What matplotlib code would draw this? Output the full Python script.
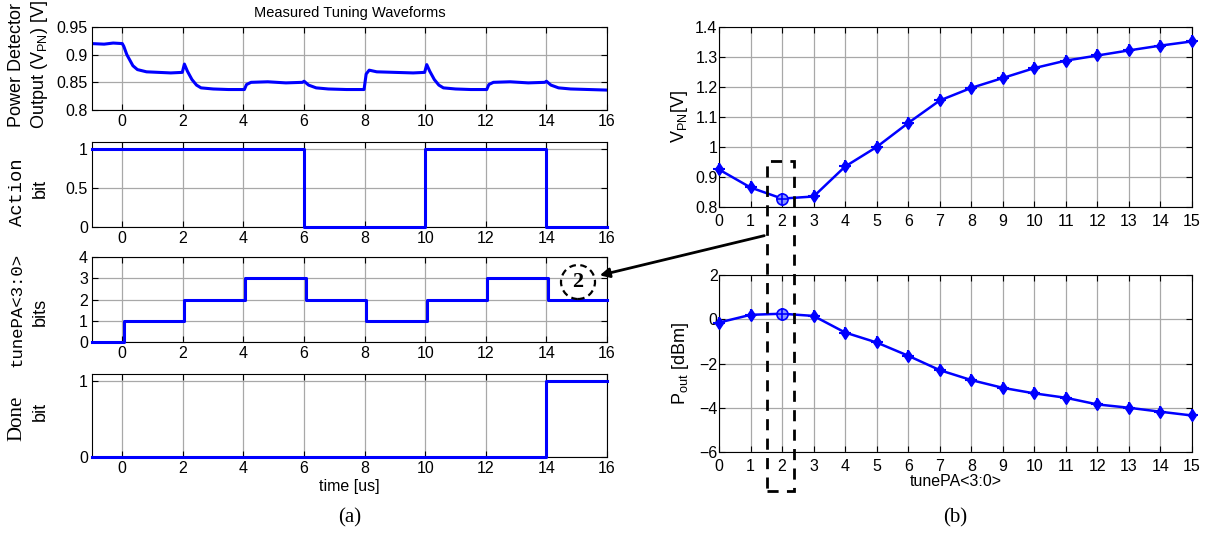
import matplotlib
matplotlib.use("Agg")
import matplotlib.pyplot as plt
from matplotlib.patches import Rectangle, Ellipse, FancyArrowPatch

plt.rcParams['font.family'] = ['Liberation Sans', 'DejaVu Sans']
plt.rcParams['mathtext.fontset'] = 'custom'
plt.rcParams['mathtext.rm'] = 'Liberation Sans'
plt.rcParams['mathtext.it'] = 'Liberation Sans'

# power detector trace, breakpoints in us / V
pd_t = [-1.0, -0.6, -0.3, 0.0, 0.05, 0.15, 0.35, 0.5, 0.8, 1.2, 1.6, 1.98,
        2.05, 2.15, 2.3, 2.45, 2.6, 3.0, 3.5, 4.03, 4.1, 4.25, 4.8, 5.4, 5.95,
        6.0, 6.15, 6.4, 6.8, 7.4, 7.98, 8.05, 8.15, 8.4, 9.0, 9.6, 9.98,
        10.05, 10.15, 10.3, 10.45, 10.6, 11.0, 11.5, 12.03, 12.1, 12.25, 12.8,
        13.4, 13.95, 14.0, 14.15, 14.4, 14.8, 15.4, 16.0]
pd_v = [0.920, 0.919, 0.921, 0.920, 0.915, 0.900, 0.880, 0.873, 0.869, 0.868,
        0.867, 0.868,
        0.883, 0.870, 0.855, 0.845, 0.840, 0.838, 0.837, 0.837, 0.846, 0.850,
        0.851, 0.849, 0.850,
        0.852, 0.845, 0.840, 0.838, 0.837, 0.837, 0.865, 0.872, 0.869, 0.868,
        0.867, 0.868,
        0.882, 0.870, 0.855, 0.845, 0.840, 0.838, 0.837, 0.837, 0.846, 0.850,
        0.851, 0.849, 0.850,
        0.852, 0.845, 0.840, 0.838, 0.837, 0.836]

# digital control signals (value holds from each edge to the next)
action_t = [-1, 6, 10, 14, 16]
action_v = [1, 0, 1, 0, 0]
tune_t = [-1, 0.05, 2.05, 4.05, 6.05, 8.05, 10.05, 12.05, 14.05, 16]
tune_v = [0, 1, 2, 3, 2, 1, 2, 3, 2, 2]
done_t = [-1, 14, 16]
done_v = [0, 1, 1]

# static sweep of tunePA code
code = list(range(16))
vpn = [0.925, 0.865, 0.828, 0.835, 0.935, 1.0, 1.08, 1.155, 1.197, 1.23,
       1.263, 1.288, 1.305, 1.322, 1.338, 1.352]
pout = [-0.15, 0.2, 0.25, 0.15, -0.6, -1.05, -1.65, -2.3, -2.75, -3.1,
        -3.35, -3.55, -3.85, -4.0, -4.18, -4.35]
chosen = 2

W, H = 1219, 539
BLUE = (0, 0, 1)
GRID = '#a8a8a8'


def box(l, t, r, b):
    return [l / W, 1 - b / H, (r - l) / W, (b - t) / H]


def style(ax):
    ax.grid(True, color=GRID, lw=0.9)
    ax.set_axisbelow(True)
    ax.tick_params(direction='in', length=4, labelsize=11.5, pad=3,
                   top=True, right=True)
    for s in ax.spines.values():
        s.set_linewidth(0.8)


fig = plt.figure(figsize=(W / 100, H / 100), dpi=100)
fig.patch.set_facecolor('white')

ax1 = fig.add_axes(box(92, 27, 607, 110))
ax2 = fig.add_axes(box(92, 142, 607, 227))
ax3 = fig.add_axes(box(92, 257, 607, 342))
ax4 = fig.add_axes(box(92, 374, 607, 457))

ax1.plot(pd_t, pd_v, color=BLUE, lw=2.2)
ax1.set_ylim(0.8, 0.95)
ax1.set_yticks([0.8, 0.85, 0.9, 0.95])
ax1.set_yticklabels(['0.8', '0.85', '0.9', '0.95'])
ax1.set_title('Measured Tuning Waveforms', fontsize=10.5, pad=7)

ax2.step(action_t, action_v, where='post', color=BLUE, lw=2.2, clip_on=False, zorder=5)
ax2.set_ylim(0, 1.09)
ax2.set_yticks([0, 0.5, 1])
ax2.set_yticklabels(['0', '0.5', '1'])

ax3.step(tune_t, tune_v, where='post', color=BLUE, lw=2.2, clip_on=False, zorder=5)
ax3.set_ylim(0, 4)
ax3.set_yticks([0, 1, 2, 3, 4])

ax4.step(done_t, done_v, where='post', color=BLUE, lw=2.2, clip_on=False, zorder=5)
ax4.set_ylim(0, 1.09)
ax4.set_yticks([0, 1])
ax4.set_xlabel('time [us]', fontsize=11.5, labelpad=2)

for ax in (ax1, ax2, ax3, ax4):
    ax.set_xlim(-1, 16)
    ax.set_xticks(range(0, 17, 2))
    style(ax)

# y labels of the waveform panels (mixed fonts, two columns)
c1, c2 = 17 / W, 40 / W
fig.text(c1, 1 - 65 / H, 'Power Detector', rotation=90, ha='center', va='center', fontsize=13)
fig.text(c2, 1 - 65 / H, 'Output (V$_{\\mathrm{PN}}$) [V]', rotation=90, ha='center', va='center', fontsize=13)
fig.text(c1, 1 - 192 / H, 'Action', rotation=90, ha='center', va='center', fontsize=13.5,
         family=['Liberation Mono', 'DejaVu Sans Mono'])
fig.text(c2, 1 - 188 / H, 'bit', rotation=90, ha='center', va='center', fontsize=13)
fig.text(c1, 1 - 310 / H, 'tunePA<3:0>', rotation=90, ha='center', va='center', fontsize=12.5,
         family=['Liberation Mono', 'DejaVu Sans Mono'])
fig.text(c2, 1 - 312 / H, 'bits', rotation=90, ha='center', va='center', fontsize=13)
fig.text(c1, 1 - 418 / H, 'Done', rotation=90, ha='center', va='center', fontsize=15,
         family=['Liberation Serif', 'DejaVu Serif'])
fig.text(c2, 1 - 411 / H, 'bit', rotation=90, ha='center', va='center', fontsize=13)

# tunePA sweep panels
bx1 = fig.add_axes(box(719, 27, 1192, 207))
bx2 = fig.add_axes(box(719, 275, 1192, 452))

for ax, vals in ((bx1, vpn), (bx2, pout)):
    ax.plot(code, vals, color=BLUE, lw=1.8, marker='d', ms=6, mfc=BLUE, mec=BLUE,
            clip_on=False, zorder=4)
    ax.plot(code, vals, ls='none', marker='+', ms=8, mew=1.5, color=BLUE,
            clip_on=False, zorder=4)
    ax.plot([code[chosen]], [vals[chosen]], ls='none', marker='o', ms=8,
            mfc=(0.55, 0.6, 1.0), mec=BLUE, mew=1.2, zorder=6)
    ax.plot([code[chosen]], [vals[chosen]], ls='none', marker='+', ms=8,
            mew=1.2, color=BLUE, zorder=7)
    ax.set_xlim(0, 15)
    ax.set_xticks(code)
    style(ax)
    ax.tick_params(axis='y', pad=1)
    ax.tick_params(axis='x', pad=5)

bx1.set_ylim(0.8, 1.4)
bx1.set_yticks([0.8, 0.9, 1.0, 1.1, 1.2, 1.3, 1.4])
bx1.set_yticklabels(['0.8', '0.9', '1', '1.1', '1.2', '1.3', '1.4'])
bx1.set_ylabel('V$_{\\mathrm{PN}}$[V]', fontsize=13, labelpad=4)

bx2.set_ylim(-6, 2)
bx2.set_yticks([-6, -4, -2, 0, 2])
bx2.set_ylabel('P$_{\\mathrm{out}}$ [dBm]', fontsize=13, labelpad=6)
bx2.set_xlabel('tunePA<3:0>', fontsize=11.5, labelpad=0)

# sub-figure captions
serif = ['Liberation Serif', 'DejaVu Serif']
fig.text(350 / W, 1 - 518 / H, '(a)', ha='center', va='center', fontsize=15, family=serif)
fig.text(955 / W, 1 - 518 / H, '(b)', ha='center', va='center', fontsize=15, family=serif)

# dashed box around the selected code, arrow back to the final tunePA value
fig.add_artist(Rectangle((767 / W, 1 - 491 / H), 27 / W, 330 / H, transform=fig.transFigure,
                         fill=False, ec='black', lw=2, ls=(0, (4, 3)), zorder=10))
fig.add_artist(FancyArrowPatch((767 / W, 1 - 235 / H), (597 / W, 1 - 276 / H),
                               transform=fig.transFigure, arrowstyle='-|>', mutation_scale=14,
                               color='black', lw=2, zorder=10))
fig.add_artist(Ellipse((578 / W, 1 - 282 / H), 34 / W, 34 / H, transform=fig.transFigure,
                       fill=False, ec='black', lw=1.6, ls=(0, (3, 2)), zorder=10))
fig.text(578 / W, 1 - 282 / H, '2', ha='center', va='center', fontsize=16, weight='bold',
         family=serif, zorder=11)

fig.savefig('out.png', dpi=100)
